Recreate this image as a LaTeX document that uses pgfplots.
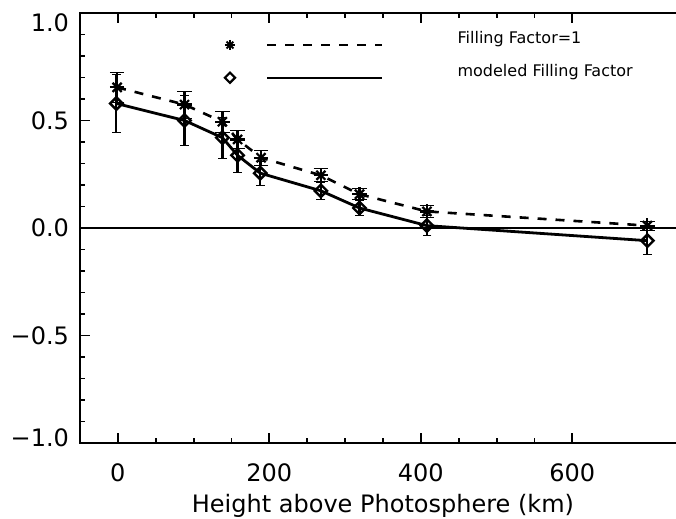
\documentclass[border=0pt]{standalone}
\usepackage{fontspec}
\setmainfont{DejaVu Sans}
\usepackage{pgfplots}
\pgfplotsset{compat=1.18}

\begin{document}
\begin{tikzpicture}
\begin{axis}[
  at={(0,0)}, anchor=south west,
  scale only axis, width=303pt, height=215pt,
  xmin=-50, xmax=750, ymin=-1, ymax=1,
  xtick={0,200,400,600}, xticklabels={0,200,400,600},
  minor x tick num=3,
  ytick={-1,-0.5,0,0.5,1},
  yticklabels={\raisebox{2.5pt}[\height][\depth]{−1.0},−0.5,0.0,0.5,\raisebox{-5pt}[\height][\depth]{1.0}},
  minor y tick num=4,
  tick align=inside,
  major tick length=5pt, minor tick length=2.5pt,
  axis line style={line width=1pt},
  every tick/.style={line width=0.9pt, black},
  tick label style={font=\fontsize{12}{14}\selectfont},
  xticklabel style={yshift=-7pt},
  yticklabel style={xshift=-2pt},
  xlabel={Height above Photosphere (km)},
  xlabel style={font=\fontsize{12}{14}\selectfont, at={(axis description cs:0.5,0)}, anchor=north, yshift=-22pt},
  error bars/error bar style={line width=1.1pt, solid},
]
% zero line
\addplot[line width=1pt] coordinates {(-50,0) (750,0)};

% Filling Factor = 1
\addplot[line width=1.3pt, dash pattern=on 4.5pt off 4.5pt, mark=+, mark size=3.6pt,
  mark options={solid, line width=1.1pt},
  error bars/.cd, y dir=both, y explicit]
coordinates {
(-1,0.654) +- (0,0.070)
(88,0.574) +- (0,0.062)
(138,0.494) +- (0,0.050)
(158,0.412) +- (0,0.042)
(189,0.327) +- (0,0.036)
(268,0.245) +- (0,0.030)
(319,0.157) +- (0,0.025)
(408,0.077) +- (0,0.026)
(699,0.011) +- (0,0.020)
};
\addplot[only marks, mark=x, mark size=3.2pt, mark options={line width=1.1pt}]
coordinates {
(-1,0.654) (88,0.574) (138,0.494) (158,0.412) (189,0.327)
(268,0.245) (319,0.157) (408,0.077) (699,0.011)
};

% modeled Filling Factor
\addplot[line width=1.4pt, mark=square, mark size=2.2pt,
  mark options={solid, rotate=45, fill=white, line width=1.2pt},
  error bars/.cd, y dir=both, y explicit]
coordinates {
(-2,0.579) +- (0,0.136)
(88,0.500) +- (0,0.116)
(138,0.420) +- (0,0.096)
(158,0.338) +- (0,0.078)
(188,0.255) +- (0,0.056)
(268,0.173) +- (0,0.039)
(319,0.093) +- (0,0.036)
(408,0.011) +- (0,0.047)
(699,-0.059) +- (0,0.066)
};

% legend
\addplot[only marks, mark=+, mark size=2.6pt, mark options={line width=1pt}] coordinates {(148,0.851)};
\addplot[only marks, mark=x, mark size=2.4pt, mark options={line width=1pt}] coordinates {(148,0.851)};
\addplot[line width=1pt, dash pattern=on 4.5pt off 4.5pt] coordinates {(197,0.851) (349,0.851)};
\addplot[only marks, mark=square, mark size=1.8pt, mark options={rotate=45, line width=1.1pt}] coordinates {(148,0.699)};
\addplot[line width=1.2pt] coordinates {(197,0.699) (349,0.699)};
\node[anchor=west, inner sep=0pt, font=\fontsize{8}{10}\selectfont] at (axis cs:448,0.879) {Filling Factor=1};
\node[anchor=west, inner sep=0pt, font=\fontsize{8}{10}\selectfont] at (axis cs:448,0.726) {modeled Filling Factor};
\end{axis}
\pgfresetboundingbox
\path (-40pt,-38pt) rectangle (298pt,221.5pt);
\end{tikzpicture}
\end{document}
